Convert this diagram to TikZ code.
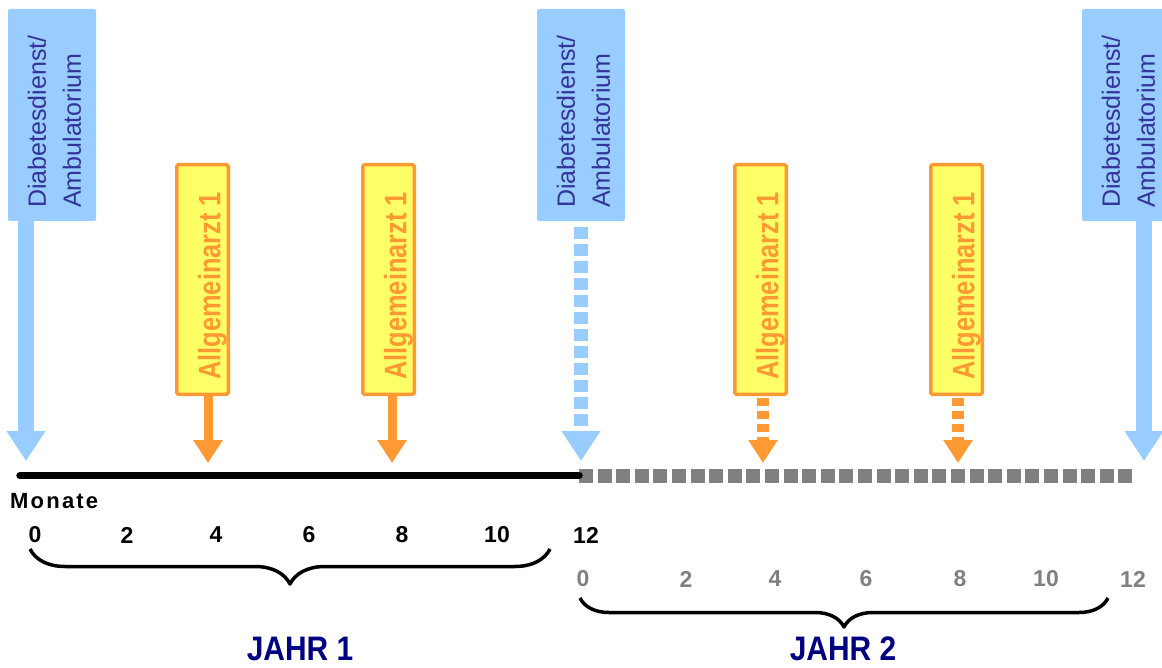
\documentclass[tikz,border=0pt]{standalone}
\usepackage{fontspec}
\setmainfont{Liberation Sans}
\newfontfamily\narrowfont[FakeStretch=0.82]{Liberation Sans}
\newfontfamily\yearfont[FakeStretch=0.88]{Liberation Sans}
\newfontfamily\trackedfont[LetterSpace=10]{Liberation Sans}
\usetikzlibrary{arrows.meta,decorations.pathreplacing}

\definecolor{boxblue}{HTML}{99CCFF}
\definecolor{textblue}{HTML}{333399}
\definecolor{gporange}{HTML}{FF9933}
\definecolor{gpyellow}{HTML}{FFFF66}
\definecolor{axisgray}{HTML}{808080}
\definecolor{yearnavy}{HTML}{000080}

\tikzset{
  specbox/.style={fill=boxblue, draw=none, rounded corners=2pt,
    minimum width=88pt, minimum height=212pt, inner sep=0pt},
  spectext/.style={rotate=90, anchor=west, inner sep=0pt, align=left,
    text=textblue, font=\fontsize{25}{35}\selectfont},
  gpbox/.style={fill=gpyellow, draw=gporange, line width=3.5pt, rounded corners=1.5pt,
    minimum width=51.5pt, minimum height=229.5pt, inner sep=0pt},
  gptext/.style={rotate=90, anchor=west, inner sep=0pt, text=gporange,
    font=\narrowfont\bfseries\fontsize{31}{36}\selectfont},
  specarrow/.style={draw=boxblue, line width=16pt,
    -{Triangle[width=37pt,length=30pt]}},
  specdashed/.style={specarrow, line width=14pt, dash pattern=on 12pt off 5pt,
    shorten <=6pt},
  gparrow/.style={draw=gporange, line width=9pt,
    -{Triangle[width=28pt,length=23pt]}},
  gpdashed/.style={gparrow, line width=12pt, dash pattern=on 8pt off 5pt,
    shorten <=2pt},
  yearone/.style={draw=black, line width=7.5pt, line cap=round},
  yeartwo/.style={draw=axisgray, line width=14pt, dash pattern=on 14pt off 4.6pt},
  numone/.style={inner sep=0pt, font=\bfseries\fontsize{23}{27}\selectfont},
  numtwo/.style={numone, text=axisgray},
  yearbrace/.style={draw=black, line width=3.5pt, line join=round,
    decorate, decoration={brace, mirror, amplitude=#1}},
  yearlabel/.style={inner sep=0pt, text=yearnavy,
    font=\yearfont\bfseries\fontsize{34}{40}\selectfont},
}

\begin{document}
\begin{tikzpicture}[x=1pt, y=-1pt]
  \useasboundingbox (0,0) rectangle (1162,668);
  \fill[white] (0,0) rectangle (1162,668);

  % time axis: first year solid, second year dashed
  \coordinate (m0)  at (20,475.5);
  \coordinate (m12) at (579,475.5);
  \coordinate (m24) at (1135,475.5);
  \draw[yeartwo] (m12) -- (m24);
  \draw[yearone] (m0) -- (m12);

  % specialist visits (Diabetesdienst / Ambulatorium)
  \node[specbox] (b1) at (52,115) {};
  \node[specbox] (b2) at (581,115) {};
  \node[specbox] (b3) at (1126,115) {};
  \node[spectext] (b1t) at (54.5,208) {Diabetesdienst/\\Ambulatorium};
  \node[spectext] (b2t) at (583.5,208) {Diabetesdienst/\\Ambulatorium};
  \node[spectext] (b3t) at (1128.5,208) {Diabetesdienst/\\Ambulatorium};

  \coordinate (s1) at (26,461);
  \coordinate (s2) at (581,461);
  \coordinate (s3) at (1144,461);
  \draw[specarrow] (s1 |- b1.south) -- (s1);
  \draw[specdashed] (s2 |- b2.south) -- (s2);
  \draw[specarrow] (s3 |- b3.south) -- (s3);

  % general practitioner visits
  \node[gpbox] (g1) at (202.5,279.5) {};
  \node[gpbox] (g2) at (388.5,279.5) {};
  \node[gpbox] (g3) at (760.5,279.5) {};
  \node[gpbox] (g4) at (956.5,279.5) {};
  \node[gptext] (g1t) at (212.5,380) {Allgemeinarzt 1};
  \node[gptext] (g2t) at (398.5,380) {Allgemeinarzt 1};
  \node[gptext] (g3t) at (770.5,380) {Allgemeinarzt 1};
  \node[gptext] (g4t) at (966.5,380) {Allgemeinarzt 1};

  \coordinate (p1) at (208,463);
  \coordinate (p2) at (392,463);
  \coordinate (p3) at (763,463);
  \coordinate (p4) at (958,463);
  \draw[gparrow] (p1 |- g1.south) -- (p1);
  \draw[gparrow] (p2 |- g2.south) -- (p2);
  \draw[gpdashed] (p3 |- g3.south) -- (p3);
  \draw[gpdashed] (p4 |- g4.south) -- (p4);

  % month scales
  \node[anchor=west, inner sep=0pt, font=\trackedfont\bfseries\fontsize{22}{26}\selectfont]
    (monate) at (10,501) {Monate};
  \foreach \m/\x in {0/35,2/127,4/216,6/309,8/402,10/497,12/586}
    \node[numone] (ma\m) at (\x,535) {\m};
  \foreach \m/\x in {0/583,2/686,4/775,6/866,8/960,10/1046,12/1133}
    \node[numtwo] (mb\m) at (\x,579) {\m};

  % year braces and labels
  \coordinate (ya) at (30,549);
  \coordinate (yb) at (550,549);
  \coordinate (yc) at (580,598);
  \coordinate (yd) at (1108,598);
  \draw[yearbrace=35pt] (ya) -- (yb);
  \draw[yearbrace=29pt] (yc) -- (yd);
  \node[yearlabel] (jahr1) at (300,649) {JAHR 1};
  \node[yearlabel] (jahr2) at (843,649) {JAHR 2};
\end{tikzpicture}
\end{document}
